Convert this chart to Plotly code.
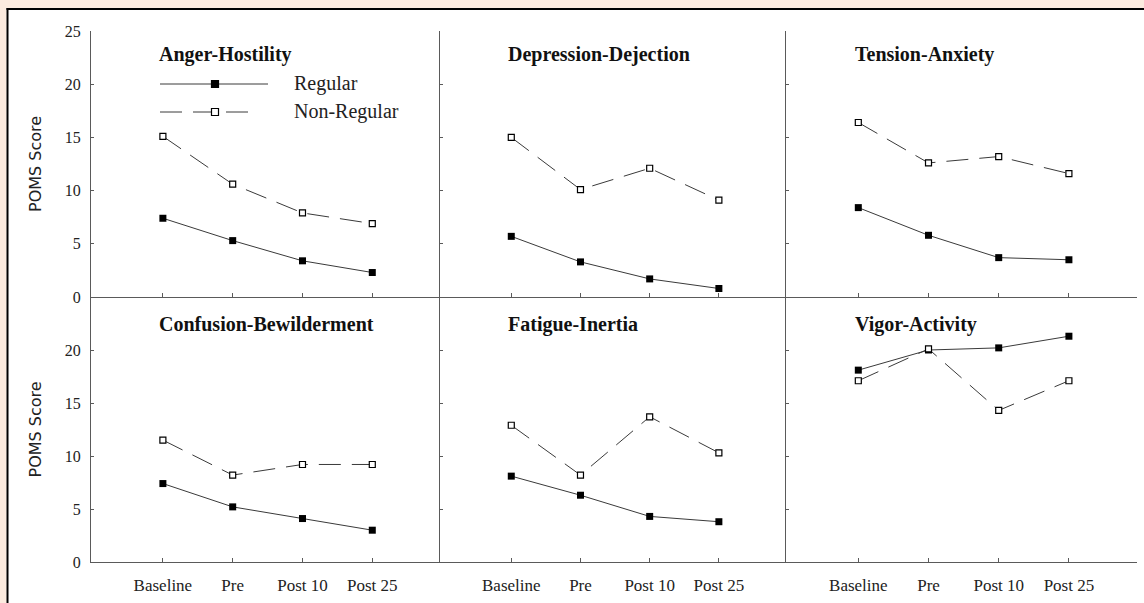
import plotly.graph_objects as go
from plotly.subplots import make_subplots

# Measurement occasions and POMS subscales
occasions = ["Baseline", "Pre", "Post 10", "Post 25"]
subscales = ["Anger-Hostility", "Depression-Dejection", "Tension-Anxiety",
             "Confusion-Bewilderment", "Fatigue-Inertia", "Vigor-Activity"]

# Mean POMS scores for regular and non-regular participants
anger_regular = [7.4, 5.3, 3.4, 2.3]
anger_nonregular = [15.1, 10.6, 7.9, 6.9]
depression_regular = [5.7, 3.3, 1.7, 0.8]
depression_nonregular = [15.0, 10.1, 12.1, 9.1]
tension_regular = [8.4, 5.8, 3.7, 3.5]
tension_nonregular = [16.4, 12.6, 13.2, 11.6]
confusion_regular = [7.4, 5.2, 4.1, 3.0]
confusion_nonregular = [11.5, 8.2, 9.2, 9.2]
fatigue_regular = [8.1, 6.3, 4.3, 3.8]
fatigue_nonregular = [12.9, 8.2, 13.7, 10.3]
vigor_regular = [18.1, 20.0, 20.2, 21.3]
vigor_nonregular = [17.1, 20.1, 14.3, 17.1]

series_names = ["Regular", "Non-Regular"]
top_ticks = [0, 5, 10, 15, 20, 25]
bottom_ticks = [0, 5, 10, 15, 20]
y_title = "POMS Score"

panels = [
    (anger_regular, anger_nonregular),
    (depression_regular, depression_nonregular),
    (tension_regular, tension_nonregular),
    (confusion_regular, confusion_nonregular),
    (fatigue_regular, fatigue_nonregular),
    (vigor_regular, vigor_nonregular),
]

W, H = 1144, 603
ML, MR, MT, MB = 91, 7, 31, 41
PW, PH = W - ML - MR, H - MT - MB

SERIF = "Liberation Serif, Times New Roman, serif"
LINE_COL = "#3a3a3a"
AXIS_COL = "#5a5a5a"
DASH = "22px,11px"

fig = make_subplots(rows=2, cols=3, horizontal_spacing=0, vertical_spacing=0)

for i, (reg, non) in enumerate(panels):
    r, c = i // 3 + 1, i % 3 + 1
    fig.add_trace(go.Scatter(
        x=occasions, y=reg, mode="lines+markers", name=series_names[0],
        line=dict(color=LINE_COL, width=1),
        marker=dict(symbol="square", size=7, color="#000000"),
        showlegend=False), row=r, col=c)
    fig.add_trace(go.Scatter(
        x=occasions, y=non, mode="lines+markers", name=series_names[1],
        line=dict(color=LINE_COL, width=1, dash=DASH),
        marker=dict(symbol="square", size=6, color="#ffffff",
                    line=dict(color="#000000", width=1.2)),
        showlegend=False), row=r, col=c)

# Column edges in pixels (left y-axis and the two dividers)
col_px = [91, 440, 786, 1137]
x_domains = [[(col_px[k] - ML) / PW, (col_px[k + 1] - ML) / PW] for k in range(3)]
row_split = (562 - 297) / PH
y_domains = [[row_split, 1.0], [0.0, row_split]]

for i in range(6):
    r, c = i // 3, i % 3
    n = i + 1
    xa = "xaxis" if n == 1 else f"xaxis{n}"
    ya = "yaxis" if n == 1 else f"yaxis{n}"
    fig.layout[xa].update(
        domain=x_domains[c], type="category", range=[-1.03, 3.97],
        showline=True, linecolor=AXIS_COL, linewidth=1.2,
        ticks="inside", ticklen=4, tickcolor=AXIS_COL, tickwidth=1,
        showgrid=False, zeroline=False,
        showticklabels=(r == 1),
        tickfont=dict(family=SERIF, size=17, color="#222222"),
        ticklabelstandoff=7,
    )
    fig.layout[ya].update(
        domain=y_domains[r], range=[0, 25],
        tickvals=top_ticks if r == 0 else bottom_ticks,
        showline=True, linecolor=AXIS_COL, linewidth=1.2,
        ticks="inside", ticklen=3, tickcolor=AXIS_COL, tickwidth=1,
        showgrid=False, zeroline=False,
        showticklabels=(c == 0),
        tickfont=dict(family=SERIF, size=16, color="#222222"),
        ticklabelstandoff=6,
    )

annotations = []
title_y = [0.91, 0.898]
for i, name in enumerate(subscales):
    n = i + 1
    sx = "x" if n == 1 else f"x{n}"
    sy = "y" if n == 1 else f"y{n}"
    annotations.append(dict(
        text=f"<b>{name}</b>", xref=f"{sx} domain", yref=f"{sy} domain",
        x=0.19, y=title_y[i // 3], xanchor="left", yanchor="middle",
        showarrow=False, font=dict(family=SERIF, size=20, color="#111111")))

# Rotated y-axis titles for both rows
for sy in ["y", "y4"]:
    annotations.append(dict(
        text=y_title, xref="paper", yref=f"{sy} domain",
        x=(35 - ML) / PW, y=0.5, textangle=-90,
        xanchor="center", yanchor="middle", showarrow=False,
        font=dict(family="DejaVu Sans, sans-serif", size=16, color="#222222")))

# Key drawn inside the first panel
key_w, key_h = col_px[1] - col_px[0], 297 - MT
def kx(px):
    return (px - col_px[0]) / key_w
def ky(py):
    return (297 - py) / key_h

shapes = []
key_rows = [(84, "solid", "#000000", 268), (112, DASH, "#ffffff", 258)]
for (py, dash, fill, x_end), label in zip(key_rows, series_names):
    shapes.append(dict(type="line", xref="x domain", yref="y domain",
                       x0=kx(160), x1=kx(x_end), y0=ky(py), y1=ky(py),
                       line=dict(color=LINE_COL, width=1, dash=dash)))
    shapes.append(dict(type="rect", xref="x domain", yref="y domain",
                       x0=kx(215 - 3.5), x1=kx(215 + 3.5),
                       y0=ky(py + 3.5), y1=ky(py - 3.5),
                       fillcolor=fill, line=dict(color="#000000", width=1.2)))
    annotations.append(dict(
        text=label, xref="x domain", yref="y domain",
        x=kx(292), y=ky(py - 1), xanchor="left", yanchor="middle",
        showarrow=False, font=dict(family=SERIF, size=20, color="#222222")))

# Page framing: tinted margin with a dark rule along the top and left
def px_x(px):
    return (px - ML) / PW
def px_y(py):
    return (H - MB - py) / PH

PEACH = "#fcebdf"
shapes.append(dict(type="rect", xref="paper", yref="paper", layer="below",
                   x0=px_x(0), x1=px_x(W), y0=px_y(8), y1=px_y(0),
                   fillcolor=PEACH, line=dict(width=0)))
shapes.append(dict(type="rect", xref="paper", yref="paper", layer="below",
                   x0=px_x(0), x1=px_x(6.5), y0=px_y(H), y1=px_y(0),
                   fillcolor=PEACH, line=dict(width=0)))
shapes.append(dict(type="line", xref="paper", yref="paper",
                   x0=px_x(6.5), x1=px_x(W), y0=px_y(9), y1=px_y(9),
                   line=dict(color="#000000", width=2)))
shapes.append(dict(type="line", xref="paper", yref="paper",
                   x0=px_x(7.5), x1=px_x(7.5), y0=px_y(H), y1=px_y(8),
                   line=dict(color="#000000", width=2)))

fig.update_layout(
    width=W, height=H,
    margin=dict(l=ML, r=MR, t=MT, b=MB),
    paper_bgcolor="#ffffff", plot_bgcolor="rgba(0,0,0,0)",
    showlegend=False,
    annotations=annotations, shapes=shapes,
)

fig.write_html("out.html")
